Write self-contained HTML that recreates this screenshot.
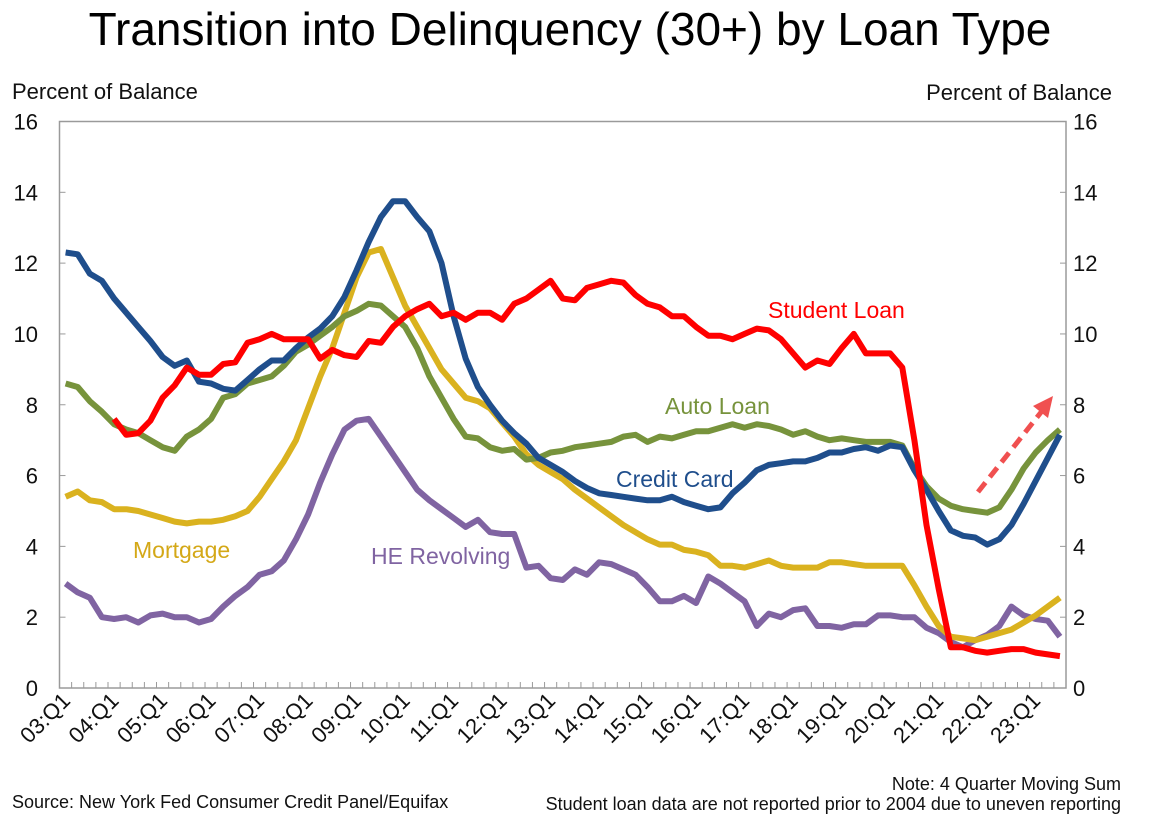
<!DOCTYPE html>
<html><head><meta charset="utf-8"><style>
html,body{margin:0;padding:0;background:#fff;}
svg{display:block;font-family:"Liberation Sans",Arial,sans-serif;}
</style></head><body>
<svg id="chart" width="1149" height="815" viewBox="0 0 1149 815" xmlns="http://www.w3.org/2000/svg">
<text x="570" y="45" font-size="46" text-anchor="middle" fill="#000">Transition into Delinquency (30+) by Loan Type</text>
<text x="12" y="99" font-size="22" fill="#111">Percent of Balance</text>
<text x="1112" y="100" font-size="22" fill="#111" text-anchor="end">Percent of Balance</text>
<g id="grid"></g>
<g id="series"></g>
<text x="768" y="318" font-size="23" fill="#ff0000">Student Loan</text>
<text x="665" y="414" font-size="23" fill="#77933c">Auto Loan</text>
<text x="616" y="487" font-size="23" fill="#1f4e8c">Credit Card</text>
<text x="133" y="558" font-size="23" fill="#d4a817">Mortgage</text>
<text x="371" y="564" font-size="23" fill="#8064a2">HE Revolving</text>
<g>
<line x1="978" y1="492" x2="1042" y2="411" stroke="#f05050" stroke-width="5" stroke-dasharray="12,7"/>
<polygon points="1053,396 1048,418 1033,406" fill="#f05050"/>
</g>
<text x="1121" y="790" font-size="18" text-anchor="end" fill="#111">Note: 4 Quarter Moving Sum</text>
<text x="1121" y="810" font-size="18" text-anchor="end" fill="#111">Student loan data are not reported prior to 2004 due to uneven reporting</text>
<text x="12" y="808" font-size="18" fill="#111">Source: New York Fed Consumer Credit Panel/Equifax</text>
</svg>
<script>
const yTicks=[0,2,4,6,8,10,12,14,16];
const yearLabels=["03:Q1","04:Q1","05:Q1","06:Q1","07:Q1","08:Q1","09:Q1","10:Q1","11:Q1","12:Q1","13:Q1","14:Q1","15:Q1","16:Q1","17:Q1","18:Q1","19:Q1","20:Q1","21:Q1","22:Q1","23:Q1"];
const creditCard=[12.3,12.25,11.7,11.5, 11.0,10.6,10.2,9.8, 9.35,9.1,9.25,8.65, 8.6,8.45,8.4,8.7, 9.0,9.25,9.25,9.6, 9.9,10.15,10.5,11.05, 11.8,12.6,13.3,13.75, 13.75,13.3,12.9,12.0, 10.5,9.3,8.5,8.0, 7.55,7.2,6.9,6.5, 6.3,6.1,5.85,5.65, 5.5,5.45,5.4,5.35, 5.3,5.3,5.4,5.25, 5.15,5.05,5.1,5.5, 5.8,6.15,6.3,6.35, 6.4,6.4,6.5,6.65, 6.65,6.75,6.8,6.7, 6.85,6.8,6.15,5.6, 5.0,4.45,4.3,4.25, 4.05,4.2,4.6,5.2, 5.85,6.5,7.15];
const mortgage=[5.4,5.55,5.3,5.25, 5.05,5.05,5.0,4.9, 4.8,4.7,4.65,4.7, 4.7,4.75,4.85,5.0, 5.4,5.9,6.4,7.0, 7.9,8.8,9.6,10.6, 11.6,12.3,12.4,11.6, 10.8,10.2,9.6,9.0, 8.6,8.2,8.1,7.9, 7.5,7.1,6.6,6.3, 6.1,5.9,5.6,5.35, 5.1,4.85,4.6,4.4, 4.2,4.05,4.05,3.9, 3.85,3.75,3.45,3.45, 3.4,3.5,3.6,3.45, 3.4,3.4,3.4,3.55, 3.55,3.5,3.45,3.45, 3.45,3.45,2.9,2.3, 1.75,1.45,1.4,1.35, 1.45,1.55,1.65,1.85, 2.05,2.3,2.55];
const autoLoan=[8.6,8.5,8.1,7.8, 7.45,7.3,7.2,7.0, 6.8,6.7,7.1,7.3, 7.6,8.2,8.3,8.6, 8.7,8.8,9.1,9.5, 9.7,9.95,10.2,10.5, 10.65,10.85,10.8,10.5, 10.2,9.6,8.8,8.2, 7.6,7.1,7.05,6.8, 6.7,6.75,6.45,6.5, 6.65,6.7,6.8,6.85, 6.9,6.95,7.1,7.15, 6.95,7.1,7.05,7.15, 7.25,7.25,7.35,7.45, 7.35,7.45,7.4,7.3, 7.15,7.25,7.1,7.0, 7.05,7.0,6.95,6.95, 6.95,6.85,6.2,5.7, 5.35,5.15,5.05,5.0, 4.95,5.1,5.6,6.2, 6.65,7.0,7.3];
const studentLoan=[null,null,null,null, 7.6,7.15,7.2,7.55, 8.2,8.55,9.05,8.85, 8.85,9.15,9.2,9.75, 9.85,10.0,9.85,9.85, 9.85,9.3,9.55,9.4, 9.35,9.8,9.75,10.2, 10.5,10.7,10.85,10.5, 10.6,10.4,10.6,10.6, 10.4,10.85,11.0,11.25, 11.5,11.0,10.95,11.3, 11.4,11.5,11.45,11.1, 10.85,10.75,10.5,10.5, 10.2,9.95,9.95,9.85, 10.0,10.15,10.1,9.85, 9.45,9.05,9.25,9.15, 9.6,10.0,9.45,9.45, 9.45,9.05,7.0,4.6, 2.8,1.15,1.15,1.05, 1.0,1.05,1.1,1.1, 1.0,0.95,0.9];
const heRevolving=[2.95,2.7,2.55,2.0, 1.95,2.0,1.85,2.05, 2.1,2.0,2.0,1.85, 1.95,2.3,2.6,2.85, 3.2,3.3,3.6,4.2, 4.9,5.8,6.6,7.3, 7.55,7.6,7.1,6.6, 6.1,5.6,5.3,5.05, 4.8,4.55,4.75,4.4, 4.35,4.35,3.4,3.45, 3.1,3.05,3.35,3.2, 3.55,3.5,3.35,3.2, 2.85,2.45,2.45,2.6, 2.4,3.15,2.95,2.7, 2.45,1.75,2.1,2.0, 2.2,2.25,1.75,1.75, 1.7,1.8,1.8,2.05, 2.05,2.0,2.0,1.7, 1.55,1.3,1.15,1.35, 1.5,1.75,2.3,2.05, 1.95,1.9,1.45];

const NS="http://www.w3.org/2000/svg";
const L=59.5,R=1066,T=121.5,B=688,N=creditCard.length;
const bw=(R-L)/N;
function xs(i){return L+(i+0.5)*bw;}
function ys(v){return B-(v/16)*(B-T);}
function mk(tag,attrs,parent){const e=document.createElementNS(NS,tag);for(const k in attrs)e.setAttribute(k,attrs[k]);parent.appendChild(e);return e;}
const grid=document.getElementById('grid');
const frame=mk('rect',{x:L,y:T,width:R-L,height:B-T,fill:'none',stroke:'#9a9a9a','stroke-width':1.5},grid);


yTicks.forEach(v=>{
  const y=ys(v);
  mk('line',{x1:L,x2:L+6,y1:y,y2:y,stroke:'#9a9a9a'},grid);
  mk('line',{x1:R-6,x2:R,y1:y,y2:y,stroke:'#9a9a9a'},grid);
  const t1=mk('text',{x:38,y:y+8,'font-size':22,'text-anchor':'end',fill:'#111'},grid);
  t1.textContent=v;
  
  
  const t2=mk('text',{x:1073,y:y+8,'font-size':22,fill:'#111'},grid);
  t2.textContent=v;
  
  
});
for(let k=0;k<=N;k++){const x=L+k*bw;mk('line',{x1:x,x2:x,y1:B,y2:B-6,stroke:'#9a9a9a'},grid);}
yearLabels.forEach((lab,j)=>{
  const x=xs(j*4)+6,y=B+14;
  const t=mk('text',{x:x,y:y,'font-size':22,'text-anchor':'end',fill:'#111',transform:`rotate(-45 ${x} ${y})`},grid);
  t.textContent=lab;
  
  
});
const sg=document.getElementById('series');
function draw(arr,color,name){
  let d='';let pen=false;
  arr.forEach((v,i)=>{if(v==null){pen=false;return;}d+=(pen?'L':'M')+xs(i).toFixed(1)+' '+ys(v).toFixed(1)+' ';pen=true;});
  const p=mk('path',{d:d,fill:'none',stroke:color,'stroke-width':6,'stroke-linejoin':'round','stroke-linecap':'butt'},sg);
  
  
}
draw(heRevolving,'#8064a2','he-revolving-line');
draw(mortgage,'#dab21f','mortgage-line');
draw(autoLoan,'#77933c','auto-loan-line');
draw(creditCard,'#1f4e8c','credit-card-line');
draw(studentLoan,'#ff0000','student-loan-line');
</script>
</body></html>
